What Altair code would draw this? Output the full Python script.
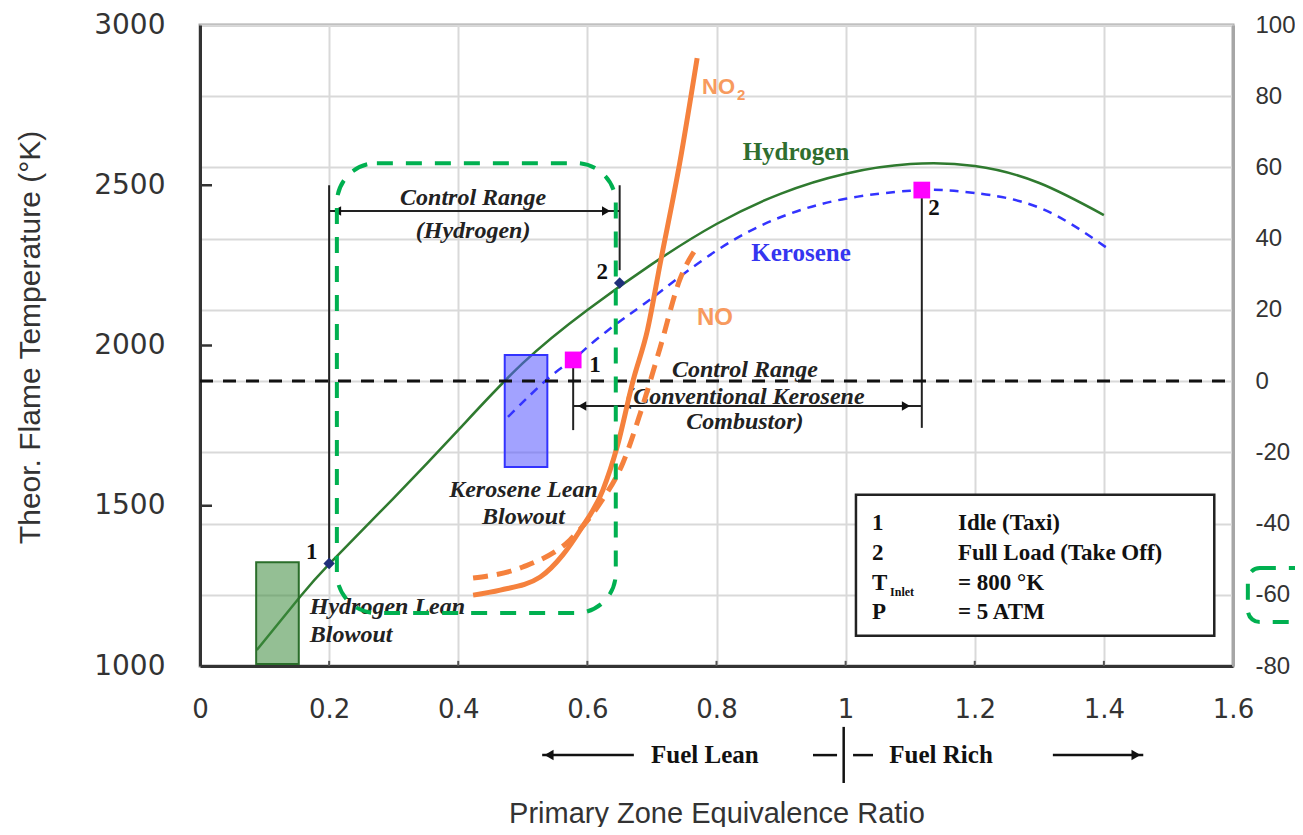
import altair as alt
import pandas as pd

# ---------------- data ----------------
h2_x = [0.088, 0.155, 0.2, 0.3, 0.4, 0.5, 0.6, 0.7, 0.8, 0.9, 1.0, 1.1, 1.2, 1.3, 1.4]
h2_t = [1050, 1216, 1318, 1524, 1736, 1945, 2111, 2254, 2379, 2474, 2536, 2566, 2560, 2507, 2407]

ker_x = [0.477, 0.542, 0.578, 0.6, 0.65, 0.7, 0.8, 0.9, 1.0, 1.1, 1.15, 1.2, 1.3, 1.405]
ker_t = [1777, 1902, 1955, 1995, 2075, 2148, 2296, 2401, 2458, 2483, 2485, 2476, 2430, 2304]

no2_x = [0.423, 0.465, 0.527, 0.562, 0.589, 0.624, 0.646, 0.671, 0.693, 0.713, 0.743, 0.770]
no2_r = [-60.1, -58.7, -55.0, -48.8, -41.8, -30.6, -18.5, 0.3, 14.3, 33.2, 61.2, 90.7]

no_x = [0.423, 0.500, 0.573, 0.620, 0.655, 0.682, 0.713, 0.743, 0.770]
no_r = [-55.3, -52.2, -44.6, -34.2, -23.0, -9.0, 9.6, 28.4, 37.7]

x_ticks = [0, 0.2, 0.4, 0.6, 0.8, 1.0, 1.2, 1.4, 1.6]
left_ticks = [1000, 1500, 2000, 2500, 3000]
right_ticks = [-80, -60, -40, -20, 0, 20, 40, 60, 80, 100]
inner_left_ticks = [1500, 2000, 2500]
inner_x_ticks = [0.2, 0.4, 0.6, 0.8, 1.0, 1.2, 1.4]

# lean blowout boxes (x from, x to, T from, T to)
h2_box = [0.087, 0.153, 1006, 1324]
ker_box = [0.472, 0.538, 1621, 1970]

# operating points
h2_pts_x = [0.2, 0.65]
h2_pts_t = [1320, 2195]
ker_pts_x = [0.578, 1.118]
ker_pts_t = [1955, 2485]

# control range bracket lines (x, x2, T, T2)
br_x = [0.2, 0.65, 0.578, 1.118, 0.2, 0.578]
br_x2 = [0.2, 0.65, 0.578, 1.118, 0.65, 1.118]
br_t = [2500, 2500, 1933, 2460, 2420, 1811]
br_t2 = [1330, 2235, 1736, 1743, 2420, 1811]
arrow_l_x = [0.2122, 0.592]
arrow_l_t = [2420, 1811]
arrow_r_x = [0.629, 1.0935]
arrow_r_t = [2420, 1811]

# italic annotation labels
ital_x = [0.423, 0.423, 0.844, 0.844, 0.844, 0.501, 0.501]
ital_t = [2460, 2357, 1924, 1839, 1761, 1549, 1465]
ital_txt = ["Control Range", "(Hydrogen)", "Control Range", "(Conventional Kerosene",
            "Combustor)", "Kerosene Lean", "Blowout"]
ital_l_x = [0.170, 0.170]
ital_l_t = [1184, 1097]
ital_l_txt = ["Hydrogen Lean", "Blowout"]

# point numbers
num_x = [0.173, 0.623, 0.612, 1.137]
num_t = [1356, 2229, 1939, 2429]
num_txt = ["1", "2", "1", "2"]

# legend box
leg_box = [1.016, 1.571, 1534, 1094]
leg_rows_t = [1446, 1353, 1259, 1168]
leg_c1_x = 1.041
leg_c2_x = 1.174
leg_c1 = ["1", "2", "T", "P"]
leg_c2 = ["Idle (Taxi)", "Full Load (Take Off)", "= 800 °K", "= 5 ATM"]

# fuel lean / rich row under the axis (T below the domain)
row_t = 722
row_lines_x = [0.530, 1.321, 0.9495, 1.0115, 0.997]
row_lines_x2 = [0.672, 1.461, 0.9867, 1.0424, 0.997]
row_lines_t = [722, 722, 722, 722, 810]
row_lines_t2 = [722, 722, 722, 722, 635]

# hand drawn markup boxes (x from, x to, T from, T to)
mark_big = [0.212, 0.644, 2569, 1165]
mark_small = [1.623, 1.72, 1306, 1137]

W, H = 1033, 641
T_DOM = [1000, 3000]
R_DOM = [-80, 100]
XS = alt.Scale(domain=[0, 1.6], nice=False)
YS = alt.Scale(domain=T_DOM, nice=False)
RS = alt.Scale(domain=R_DOM, nice=False)


def t_to_r(t):
    """Same vertical position expressed on the right axis."""
    return R_DOM[0] + (t - T_DOM[0]) * (R_DOM[1] - R_DOM[0]) / (T_DOM[1] - T_DOM[0])


DARK = "#333333"
SERIF = "Liberation Serif"
SANS = "Liberation Sans"

x_axis = alt.Axis(values=x_ticks, format="~g", grid=True, gridColor="#d9d9d9", gridWidth=2,
                  ticks=False, domainColor=DARK, domainWidth=3, labelFont="DejaVu Sans",
                  labelFontSize=26, labelColor=DARK, labelPadding=30, labelFlush=False,
                  title="Primary Zone Equivalence Ratio", titleFont=SANS, titleFontSize=29,
                  titleFontWeight="normal", titleColor=DARK, titleY=156,
                  titleBaseline="alphabetic")
left_axis = alt.Axis(values=left_ticks, format="d", grid=False, ticks=False,
                     domainColor=DARK, domainWidth=3, labelFont="DejaVu Sans",
                     labelFontSize=28, labelColor=DARK, labelPadding=35, labelFlush=False,
                     title="Theor. Flame Temperature (°K)", titleFont=SANS, titleFontSize=30,
                     titleFontWeight="normal", titleColor=DARK, titleX=-170, titleY=312,
                     titleAlign="center", titleBaseline="middle", titleAngle=-90)
right_axis = alt.Axis(orient="right", values=right_ticks, labelExpr="'' + datum.value",
                      grid=True, gridColor="#d9d9d9", gridWidth=2, ticks=False,
                      domainColor="#a6a6a6", domainWidth=3, labelFont=SANS,
                      labelFontSize=24, labelColor=DARK, labelPadding=22, labelFlush=False,
                      title="")


def X(f="x"):
    return alt.X(f"{f}:Q", scale=XS)


def Y(f="t"):
    return alt.Y(f"{f}:Q", scale=YS)


def R(f="r"):
    return alt.Y(f"{f}:Q", scale=RS)


def box_chart(b, **kw):
    df = pd.DataFrame({"x": [b[0]], "x2": [b[1]], "t": [b[2]], "t2": [b[3]]})
    return alt.Chart(df).mark_rect(**kw).encode(x=X(), x2="x2:Q", y=Y(), y2="t2:Q")


def box_chart_r(b, **kw):
    df = pd.DataFrame({"x": [b[0]], "x2": [b[1]], "r": [t_to_r(b[2])],
                       "r2": [t_to_r(b[3])]})
    return alt.Chart(df).mark_rect(**kw).encode(x=X(), x2="x2:Q", y=R(), y2="r2:Q")


def text_chart(xs, ts, labels, **kw):
    df = pd.DataFrame({"x": xs, "t": ts, "label": labels})
    return alt.Chart(df).mark_text(**kw).encode(x=X(), y=Y(), text="label:N")


def rule_chart(xs, x2s, ts, t2s, **kw):
    df = pd.DataFrame({"x": xs, "x2": x2s, "t": ts, "t2": t2s})
    return alt.Chart(df).mark_rule(**kw).encode(x=X(), x2="x2:Q", y=Y(), y2="t2:Q")


def point_chart(xs, ts, **kw):
    df = pd.DataFrame({"x": xs, "t": ts})
    return alt.Chart(df).mark_point(**kw).encode(x=X(), y=Y())


h2_df = pd.DataFrame({"x": h2_x, "t": h2_t})
ker_df = pd.DataFrame({"x": ker_x, "t": ker_t})

h2_line = alt.Chart(h2_df).mark_line(color="#2f7a2f", strokeWidth=2.5,
                                     interpolate="natural").encode(
    x=alt.X("x:Q", scale=XS, axis=x_axis),
    y=alt.Y("t:Q", scale=YS, axis=left_axis))
ker_line = alt.Chart(ker_df).mark_line(color="#3333ff", strokeWidth=2.5, strokeDash=[9, 7],
                                       interpolate="natural").encode(x=X(), y=Y())

green_box = box_chart(h2_box, fill="#3d8b3d", fillOpacity=0.55, stroke="#2a6e2a",
                      strokeWidth=2)
blue_box = box_chart(ker_box, fill="#5555ff", fillOpacity=0.55, stroke="#3333ff",
                     strokeWidth=2)

brackets = rule_chart(br_x, br_x2, br_t, br_t2, color="#222222", strokeWidth=2)
arrows_l = point_chart(arrow_l_x, arrow_l_t, shape="triangle-left", filled=True,
                       color="#111111", size=90, opacity=1)
arrows_r = point_chart(arrow_r_x, arrow_r_t, shape="triangle-right", filled=True,
                       color="#111111", size=90, opacity=1)

h2_pts = point_chart(h2_pts_x, h2_pts_t, shape="diamond", filled=True, color="#1f2f7a",
                     size=130, opacity=1)
ker_pts = point_chart(ker_pts_x, ker_pts_t, shape="square", filled=True, color="#ff00ff",
                      size=280, opacity=1)

ital = text_chart(ital_x, ital_t, ital_txt, font=SERIF, fontSize=24, fontWeight="bold",
                  fontStyle="italic", color="#222222", align="center", baseline="middle")
ital_l = text_chart(ital_l_x, ital_l_t, ital_l_txt, font=SERIF, fontSize=24,
                    fontWeight="bold", fontStyle="italic", color="#222222", align="left",
                    baseline="middle")
nums = text_chart(num_x, num_t, num_txt, font=SERIF, fontSize=23, fontWeight="bold",
                  color="#111111", align="center", baseline="middle")

h2_lbl = text_chart([0.923], [2604], ["Hydrogen"], font=SERIF, fontSize=25, fontWeight="bold",
                    color="#2f6e2f", align="center", baseline="middle")
ker_lbl = text_chart([0.931], [2289], ["Kerosene"], font=SERIF, fontSize=25,
                     fontWeight="bold", color="#3535f0", align="center", baseline="middle")
no2_lbl = text_chart([0.7776], [2806], ["NO"], font=SANS, fontSize=22, fontWeight="bold",
                     color="#f79a5e", align="left", baseline="middle")
no2_sub = text_chart([0.8318], [2781], ["2"], font=SANS, fontSize=15, fontWeight="bold",
                     color="#f79a5e", align="left", baseline="middle")
no_lbl = text_chart([0.7698], [2086], ["NO"], font=SANS, fontSize=24, fontWeight="bold",
                    color="#f79a5e", align="left", baseline="middle")

legend_box = box_chart(leg_box, fill="white", stroke="#222222", strokeWidth=2.5)
leg1 = text_chart([leg_c1_x] * 4, leg_rows_t, leg_c1, font=SERIF, fontSize=23,
                  fontWeight="bold", color="#111111", align="left", baseline="middle")
leg2 = text_chart([leg_c2_x] * 4, leg_rows_t, leg_c2, font=SERIF, fontSize=23,
                  fontWeight="bold", color="#111111", align="left", baseline="middle")
leg_sub = text_chart([1.0688], [1231], ["Inlet"], font=SERIF, fontSize=12, fontWeight="bold",
                     color="#111111", align="left", baseline="middle")

tick_left = rule_chart([0] * 3, [0.0186] * 3, inner_left_ticks, inner_left_ticks,
                       color=DARK, strokeWidth=2.5)
tick_bottom = rule_chart(inner_x_ticks, inner_x_ticks, [1000] * 7, [1016] * 7,
                         color="#555555", strokeWidth=2)

row_lines = rule_chart(row_lines_x, row_lines_x2, row_lines_t, row_lines_t2,
                       color="#111111", strokeWidth=2.5)
row_arrow_l = point_chart([0.5406], [row_t], shape="triangle-left", filled=True,
                          color="#111111", size=110, opacity=1)
row_arrow_r = point_chart([1.4498], [row_t], shape="triangle-right", filled=True,
                          color="#111111", size=110, opacity=1)
row_text = text_chart([0.782, 1.1478], [row_t, row_t], ["Fuel Lean", "Fuel Rich"],
                      font=SERIF, fontSize=25, fontWeight="bold", color="#111111",
                      align="center", baseline="middle")

left_group = alt.layer(
    h2_line, green_box, blue_box, ker_line, brackets, arrows_l, arrows_r, h2_pts, ker_pts,
    ital, ital_l, nums, h2_lbl, ker_lbl, no2_lbl, no2_sub, no_lbl, legend_box, leg1, leg2,
    leg_sub, tick_left, tick_bottom, row_lines, row_arrow_l, row_arrow_r, row_text)

# ---------------- right axis group ----------------
no2_df = pd.DataFrame({"x": no2_x, "r": no2_r})
no_df = pd.DataFrame({"x": no_x, "r": no_r})
zero_df = pd.DataFrame({"x": [0.0], "x2": [1.6], "r": [0]})

no2_line = alt.Chart(no2_df).mark_line(color="#f5813d", strokeWidth=5,
                                       interpolate="monotone").encode(
    x=X(), y=alt.Y("r:Q", scale=RS, axis=right_axis))
no_line = alt.Chart(no_df).mark_line(color="#f5813d", strokeWidth=5, strokeDash=[15, 9],
                                     interpolate="monotone").encode(x=X(), y=R())
zero_line = alt.Chart(zero_df).mark_rule(color="#111111", strokeWidth=3,
                                         strokeDash=[13, 10]).encode(
    x=X(), x2="x2:Q", y=R())

# hand drawn markup (drawn on top of everything)
markup_big = box_chart_r(mark_big, filled=False, stroke="#00b050", strokeWidth=4,
                         strokeDash=[16, 13], cornerRadius=40)
markup_small = box_chart_r(mark_small, filled=False, stroke="#00b050", strokeWidth=4,
                           strokeDash=[16, 13], cornerRadius=12)

right_group = alt.layer(no2_line, zero_line, no_line, markup_big, markup_small)

chart = alt.layer(left_group, right_group).resolve_scale(y="independent").properties(
    width=W, height=H,
    autosize=alt.AutoSizeParams(type="none"),
    padding={"left": 192, "top": 17, "right": 62, "bottom": 161},
).configure_view(stroke="#a6a6a6", strokeWidth=3).configure_axis(labelOverlap=False)

chart.save("out.html", embed_options={"renderer": "svg", "actions": False})
